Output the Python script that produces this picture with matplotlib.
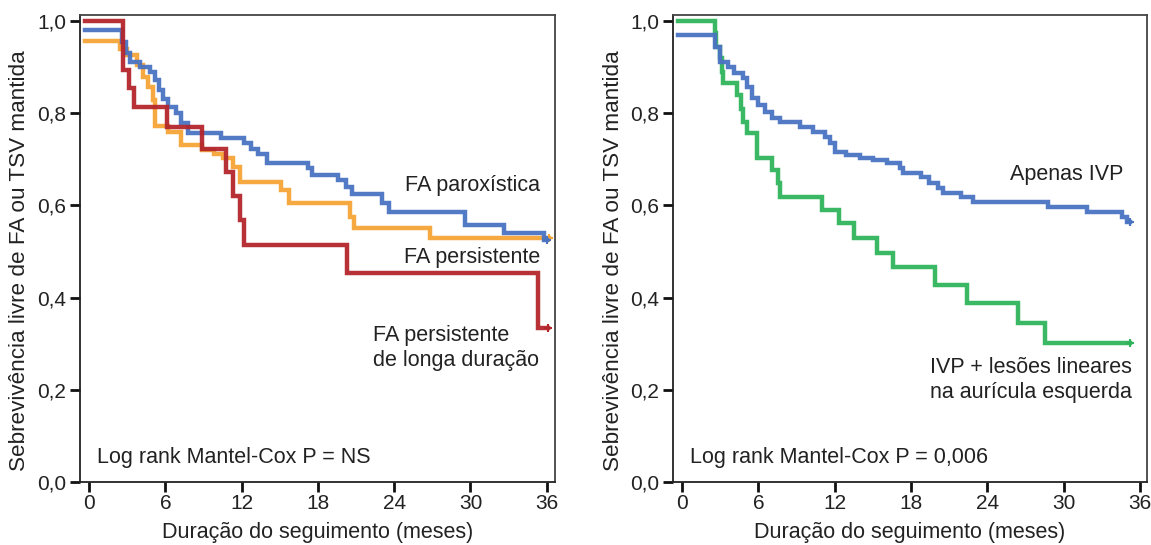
import matplotlib
matplotlib.use("Agg")
import matplotlib.pyplot as plt

plt.rcParams['font.family'] = ['Liberation Sans', 'DejaVu Sans']

# ---- Left panel data (time in months, survival) ----
parox_t = [-0.3, 2.6, 2.9, 3.2, 4.0, 4.8, 5.2, 5.5, 5.8, 6.2, 6.8, 7.2, 7.8, 10.4, 12.2, 12.7,
           13.3, 14.0, 17.2, 17.5, 19.6, 20.2, 20.7, 23.0, 23.6, 29.6, 32.6, 35.8, 36.0]
parox_s = [0.98, 0.955, 0.93, 0.91, 0.90, 0.89, 0.872, 0.85, 0.83, 0.813, 0.80, 0.778, 0.757, 0.746,
           0.735, 0.722, 0.711, 0.692, 0.68, 0.665, 0.655, 0.64, 0.625, 0.605, 0.586, 0.557, 0.54,
           0.525, 0.525]

pers_t = [-0.3, 2.4, 3.0, 3.8, 4.2, 4.6, 5.0, 5.2, 6.2, 7.2, 8.9, 9.8, 10.5, 11.3, 11.9, 15.1,
          15.7, 20.5, 20.8, 26.8, 36.2]
pers_s = [0.957, 0.94, 0.926, 0.905, 0.879, 0.857, 0.829, 0.772, 0.759, 0.731, 0.72, 0.712, 0.703,
          0.683, 0.651, 0.633, 0.605, 0.575, 0.551, 0.529, 0.529]

longa_t = [-0.3, 2.7, 3.1, 3.5, 6.1, 8.9, 10.8, 11.3, 11.9, 12.2, 20.3, 35.3, 36.1]
longa_s = [1.0, 0.894, 0.855, 0.813, 0.77, 0.722, 0.672, 0.62, 0.568, 0.514, 0.453, 0.333, 0.333]

# ---- Right panel data ----
ivp_t = [-0.3, 2.6, 3.0, 3.6, 4.1, 4.8, 5.1, 5.5, 6.0, 6.5, 7.1, 7.7, 9.3, 10.3, 11.2, 11.6, 12.0,
         12.9, 14.0, 15.0, 16.1, 17.1, 17.4, 18.8, 19.4, 20.1, 20.5, 21.9, 22.9, 28.8, 31.8, 34.6,
         35.0, 35.2]
ivp_s = [0.97, 0.944, 0.911, 0.90, 0.887, 0.876, 0.857, 0.833, 0.818, 0.803, 0.79, 0.781, 0.77, 0.759,
         0.748, 0.735, 0.716, 0.709, 0.703, 0.698, 0.692, 0.681, 0.67, 0.662, 0.649, 0.637, 0.627,
         0.618, 0.607, 0.597, 0.586, 0.575, 0.564, 0.564]

lin_t = [-0.3, 2.6, 2.7, 3.0, 3.1, 3.2, 4.3, 4.6, 4.8, 5.1, 5.9, 7.1, 7.5, 7.7, 11.0, 12.3, 13.5,
         15.3, 16.6, 19.9, 22.4, 26.4, 28.5, 35.2]
lin_s = [1.0, 0.974, 0.944, 0.92, 0.89, 0.865, 0.84, 0.81, 0.78, 0.757, 0.702, 0.677, 0.649, 0.618,
         0.59, 0.562, 0.529, 0.497, 0.466, 0.427, 0.388, 0.345, 0.302, 0.302]

xticks = [0, 6, 12, 18, 24, 30, 36]
yticks = [0.0, 0.2, 0.4, 0.6, 0.8, 1.0]
ytick_labels = ['0,0', '0,2', '0,4', '0,6', '0,8', '1,0']

BLUE = '#4a73c2'
ORANGE = '#f6a536'
RED = '#b3262c'
GREEN = '#2fb45c'

fig = plt.figure(figsize=(11.51, 5.45), dpi=100)
axL = fig.add_axes([0.0695, 0.1156, 0.4127, 0.857])
axR = fig.add_axes([0.5847, 0.1156, 0.4118, 0.857])

FS = 15.5
TFS = 15

def style(ax, xmax, ylab_x):
    ax.set_xlim(-0.72, xmax)
    ax.set_ylim(0.0, 1.013)
    ax.set_xticks(xticks)
    ax.set_xticklabels([str(v) for v in xticks], fontsize=TFS, color='#222222')
    ax.set_yticks(yticks)
    ax.set_yticklabels(ytick_labels, fontsize=TFS, color='#222222')
    ax.tick_params(axis='both', direction='out', length=7, width=2, color='#111111', pad=3)
    ax.tick_params(axis='x', pad=2)
    for side in ['left', 'bottom']:
        ax.spines[side].set_color('#222222')
        ax.spines[side].set_linewidth(1.3)
    for side in ['top', 'right']:
        ax.spines[side].set_color('#444444')
        ax.spines[side].set_linewidth(1.3)
    ax.set_xlabel('Duração do seguimento (meses)', fontsize=FS, color='#222222')
    ax.xaxis.set_label_coords(0.5, -0.085)
    ax.set_ylabel('Sebrevivência livre de FA ou TSV mantida', fontsize=FS + 0.7, color='#222222')
    ax.yaxis.set_label_coords(ylab_x, 0.475)

def km(ax, t, s, color):
    ax.plot(t, s, drawstyle='steps-post', color=color, lw=3.2, solid_joinstyle='miter',
            alpha=0.95)
    ax.plot([t[-1]], [s[-1]], marker='+', color=color, ms=6, mew=1.5)

km(axL, pers_t, pers_s, ORANGE)
km(axL, parox_t, parox_s, BLUE)
km(axL, longa_t, longa_s, RED)
style(axL, 36.65, -0.105)

km(axR, lin_t, lin_s, GREEN)
km(axR, ivp_t, ivp_s, BLUE)
style(axR, 36.55, -0.103)

tc = '#222222'
axL.text(35.5, 0.644, 'FA paroxística', fontsize=FS, ha='right', va='center', color=tc)
axL.text(35.5, 0.486, 'FA persistente', fontsize=FS, ha='right', va='center', color=tc)
axL.text(22.3, 0.29, 'FA persistente\nde longa duração', fontsize=FS, ha='left', va='center',
         color=tc, linespacing=1.25)
axL.text(0.63, 0.054, 'Log rank Mantel-Cox P = NS', fontsize=FS, ha='left', va='center', color=tc)

axR.text(34.7, 0.666, 'Apenas IVP', fontsize=FS, ha='right', va='center', color=tc)
axR.text(19.5, 0.221, 'IVP + lesões lineares\nna aurícula esquerda', fontsize=FS, ha='left',
         va='center', color=tc, linespacing=1.25)
axR.text(0.63, 0.054, 'Log rank Mantel-Cox P = 0,006', fontsize=FS, ha='left', va='center', color=tc)

fig.savefig('out.png', dpi=100)
